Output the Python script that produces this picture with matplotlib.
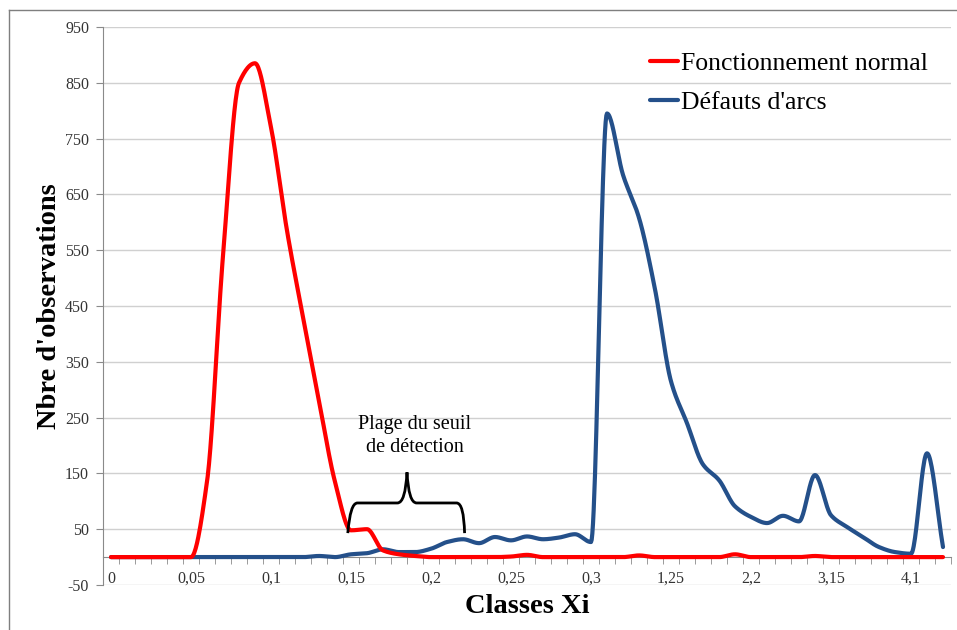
import numpy as np
import matplotlib
matplotlib.use("Agg")
import matplotlib.pyplot as plt
from matplotlib.path import Path
from matplotlib.patches import PathPatch
from matplotlib.lines import Line2D

# Classes Xi (axe des catégories)
classes = [
    0, 0.01, 0.02, 0.03, 0.04, 0.05, 0.06, 0.07, 0.08, 0.09,
    0.1, 0.11, 0.12, 0.13, 0.14, 0.15, 0.16, 0.17, 0.18, 0.19,
    0.2, 0.21, 0.22, 0.23, 0.24, 0.25, 0.26, 0.27, 0.28, 0.29,
    0.3, 0.49, 0.68, 0.87, 1.06, 1.25, 1.44, 1.63, 1.82, 2.01,
    2.2, 2.39, 2.58, 2.77, 2.96, 3.15, 3.34, 3.53, 3.72, 3.91,
    4.1, 4.29, 4.48,
]

normal = [
    0, 0, 0, 0, 0, 0, 135, 540, 850, 885,
    770, 585, 430, 280, 135, 48, 50, 12, 5, 2,
    0, 0, 0, 0, 0, 1, 4, 0, 0, 0,
    0, 0, 0, 3, 0, 0, 0, 0, 0, 5,
    0, 0, 0, 0, 2, 0, 0, 0, 0, 0,
    0, 0, 0,
]

arcs = [
    0, 0, 0, 0, 0, 0, 0, 0, 0, 0,
    0, 0, 0, 2, 0, 5, 7, 14, 9, 9,
    15, 27, 32, 25, 36, 30, 37, 32, 35, 41,
    27, 795, 685, 608, 480, 315, 240, 166, 138, 91,
    72, 61, 74, 64, 147, 75, 54, 36, 18, 9,
    6, 186, 18,
]

C_NORMAL = "#FF0000"
C_ARCS = "#24508A"
C_GRID = "#D0D0D0"
C_AXIS = "#8A8A8A"
SERIF = "Liberation Serif"

plt.rcParams["font.family"] = SERIF
plt.rcParams["axes.unicode_minus"] = False


def smooth(y, n=24):
    """Courbe lissée sans dépassement (cubique monotone par morceaux)."""
    y = np.asarray(y, dtype=float)
    d = np.diff(y)
    m = np.zeros_like(y)
    m[0], m[-1] = d[0], d[-1]
    for k in range(1, len(y) - 1):
        if d[k - 1] * d[k] > 0:
            m[k] = 2 / (1 / d[k - 1] + 1 / d[k])
    xs, ys = [], []
    t = np.linspace(0, 1, n, endpoint=False)
    h00 = 2 * t**3 - 3 * t**2 + 1
    h10 = t**3 - 2 * t**2 + t
    h01 = -2 * t**3 + 3 * t**2
    h11 = t**3 - t**2
    for k in range(len(y) - 1):
        xs.append(k + t)
        ys.append(h00 * y[k] + h10 * m[k] + h01 * y[k + 1] + h11 * m[k + 1])
    xs.append([len(y) - 1])
    ys.append([y[-1]])
    return np.concatenate(xs), np.concatenate(ys)


fig = plt.figure(figsize=(9.57, 6.30), dpi=100)
ax = fig.add_axes([103 / 957, 1 - 585 / 630, 848 / 957, 558 / 630])

# cadre du graphique (gauche + haut)
fig.add_artist(Line2D([9 / 957, 9 / 957], [0, 1 - 10 / 630], color="#7F7F7F", lw=1))
fig.add_artist(Line2D([9 / 957, 1], [1 - 10 / 630, 1 - 10 / 630], color="#7F7F7F", lw=1))

idx = np.arange(len(classes))
sx, sy = smooth(normal)
ax.plot(sx, sy, color=C_NORMAL, lw=3, solid_capstyle="round", zorder=4,
        label="Fonctionnement normal")
sx, sy = smooth(arcs)
ax.plot(sx, sy, color=C_ARCS, lw=3, solid_capstyle="round", zorder=3,
        label="Défauts d'arcs")

ax.set_xlim(-0.5, len(classes) - 0.5)
ax.set_ylim(-50, 950)
ax.set_yticks(np.arange(-50, 951, 100))
ax.grid(axis="y", color=C_GRID, lw=1)
ax.set_axisbelow(True)

for s in ["top", "right"]:
    ax.spines[s].set_visible(False)
ax.spines["left"].set_color(C_AXIS)
ax.spines["bottom"].set_color(C_AXIS)
ax.spines["bottom"].set_position(("data", 0))

ax.set_xticks(idx[::5])
ax.set_xticklabels([f"{c:g}".replace(".", ",") for c in classes[::5]])
ax.set_xticks(np.arange(-0.5, len(classes), 1), minor=True)
ax.tick_params(axis="x", which="major", length=0, pad=10, labelsize=11.5,
               labelcolor="#333333")
ax.tick_params(axis="x", which="minor", length=5, color=C_AXIS, direction="out")
ax.tick_params(axis="y", length=5, color=C_AXIS, pad=5, labelsize=11.5,
               labelcolor="#333333")

ax.set_ylabel("Nbre d'observations", fontsize=20.5, fontweight="bold", labelpad=2)
ax.set_xlabel("Classes Xi", fontsize=20.5, fontweight="bold")
ax.xaxis.set_label_coords(0.5, -0.016)

leg = ax.legend(loc="upper left", bbox_to_anchor=(650 / 957, 1 - 52 / 630),
                bbox_transform=fig.transFigure, frameon=False, fontsize=18.5,
                handlelength=1.1, handletextpad=0.1, labelspacing=0.62,
                borderpad=0, borderaxespad=0)

# accolade : plage du seuil de détection
verts = [(14.8, 43), (14.95, 97), (15.4, 97), (17.9, 97), (18.4, 97), (18.5, 152),
         (18.6, 97), (19.1, 97), (21.6, 97), (22.05, 97), (22.1, 43)]
codes = [Path.MOVETO, Path.CURVE3, Path.CURVE3, Path.LINETO, Path.CURVE3, Path.CURVE3,
         Path.CURVE3, Path.CURVE3, Path.LINETO, Path.CURVE3, Path.CURVE3]
ax.add_patch(PathPatch(Path(verts, codes), fill=False, color="black", lw=2, zorder=5))
ax.text(19.0, 217, "Plage du seuil\nde détection", ha="center", va="center",
        fontsize=14.5, linespacing=1.3)

fig.savefig("out.png", dpi=100)
